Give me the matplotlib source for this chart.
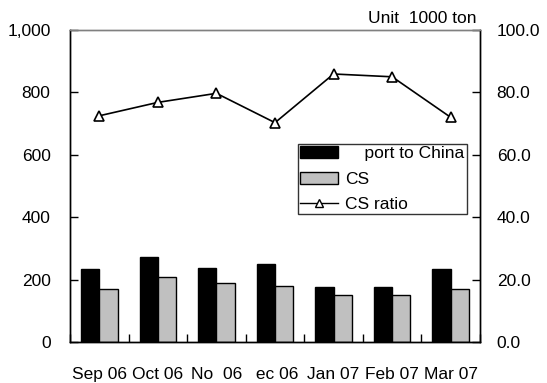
import matplotlib
matplotlib.use("Agg")
import matplotlib.pyplot as plt
from matplotlib.lines import Line2D
import numpy as np

plt.rcParams['font.family'] = ['Liberation Sans', 'DejaVu Sans']

months = ["Sep 06", "Oct 06", "No  06", " ec 06", "Jan 07", "Feb 07", "Mar 07"]
export_china = [233, 271, 237, 251, 175, 175, 233]
cs = [169, 207, 188, 178, 150, 150, 169]
cs_ratio = [72.5, 76.8, 79.7, 70.3, 85.9, 85.0, 72.0]

fs = 12.5
fig = plt.figure(figsize=(5.47, 3.83), dpi=100)
ax = fig.add_axes([70 / 547, 1 - 342 / 383, 410 / 547, 312 / 383])
ax2 = ax.twinx()

x = np.arange(len(months))
w = 1 / 3.2
b1 = ax.bar(x - w / 2, export_china, w, color='black', edgecolor='black', linewidth=1.0)
b2 = ax.bar(x + w / 2, cs, w, color='#c0c0c0', edgecolor='black', linewidth=1.0)
ax2.plot(x, cs_ratio, color='black', linewidth=1.2, marker='^', markersize=7.5,
         markerfacecolor='white', markeredgecolor='black', markeredgewidth=1.2)

ax.set_xlim(-0.5, len(months) - 0.5)
ax.set_ylim(0, 1000)
ax2.set_ylim(0, 100)
ax.set_yticks(np.arange(0, 1001, 200))
ax.set_yticklabels([f"{v:,}" for v in range(0, 1001, 200)])
ax2.set_yticks(np.arange(0, 101, 20))
ax2.set_yticklabels([f"{v:.1f}" for v in range(0, 101, 20)])

ax.set_xticks(x)
ax.set_xticklabels(months)
ax.set_xticks(np.arange(-0.5, len(months), 1), minor=True)
ax.tick_params(axis='x', which='major', length=0, pad=18, labelsize=fs)
ax.tick_params(axis='x', which='minor', direction='in', length=6, width=1)
ax.tick_params(axis='y', direction='in', length=6, width=1, pad=14, labelsize=fs)
ax2.tick_params(axis='y', direction='in', length=6, width=1, pad=12, labelsize=fs)

for a in (ax, ax2):
    for side in ('left', 'right', 'bottom'):
        a.spines[side].set_color('black')
        a.spines[side].set_linewidth(1.0)
    a.spines['top'].set_color('#808080')
    a.spines['top'].set_linewidth(1.0)

fig.text(477 / 547, 1 - 23 / 383, "Unit  1000 ton", ha='right', va='baseline', fontsize=fs)

# legend entry for the ratio line uses a smaller triangle
ratio_handle = Line2D([], [], color='black', linewidth=1.0, marker='^', markersize=5.5,
                      markerfacecolor='white', markeredgecolor='black', markeredgewidth=1.0)
leg = fig.legend([b1, b2, ratio_handle], ['    port to China', 'CS', 'CS ratio'],
                 loc='upper left', bbox_to_anchor=(298 / 547, 1 - 144 / 383),
                 bbox_transform=fig.transFigure, borderaxespad=0, fancybox=False,
                 frameon=True, edgecolor='black', fontsize=fs, handlelength=2.2,
                 handleheight=0.7, handletextpad=0.4, labelspacing=0.6, borderpad=0.12)
leg.get_frame().set_linewidth(1.0)
leg.set_zorder(5)

fig.savefig("out.png", dpi=100)
